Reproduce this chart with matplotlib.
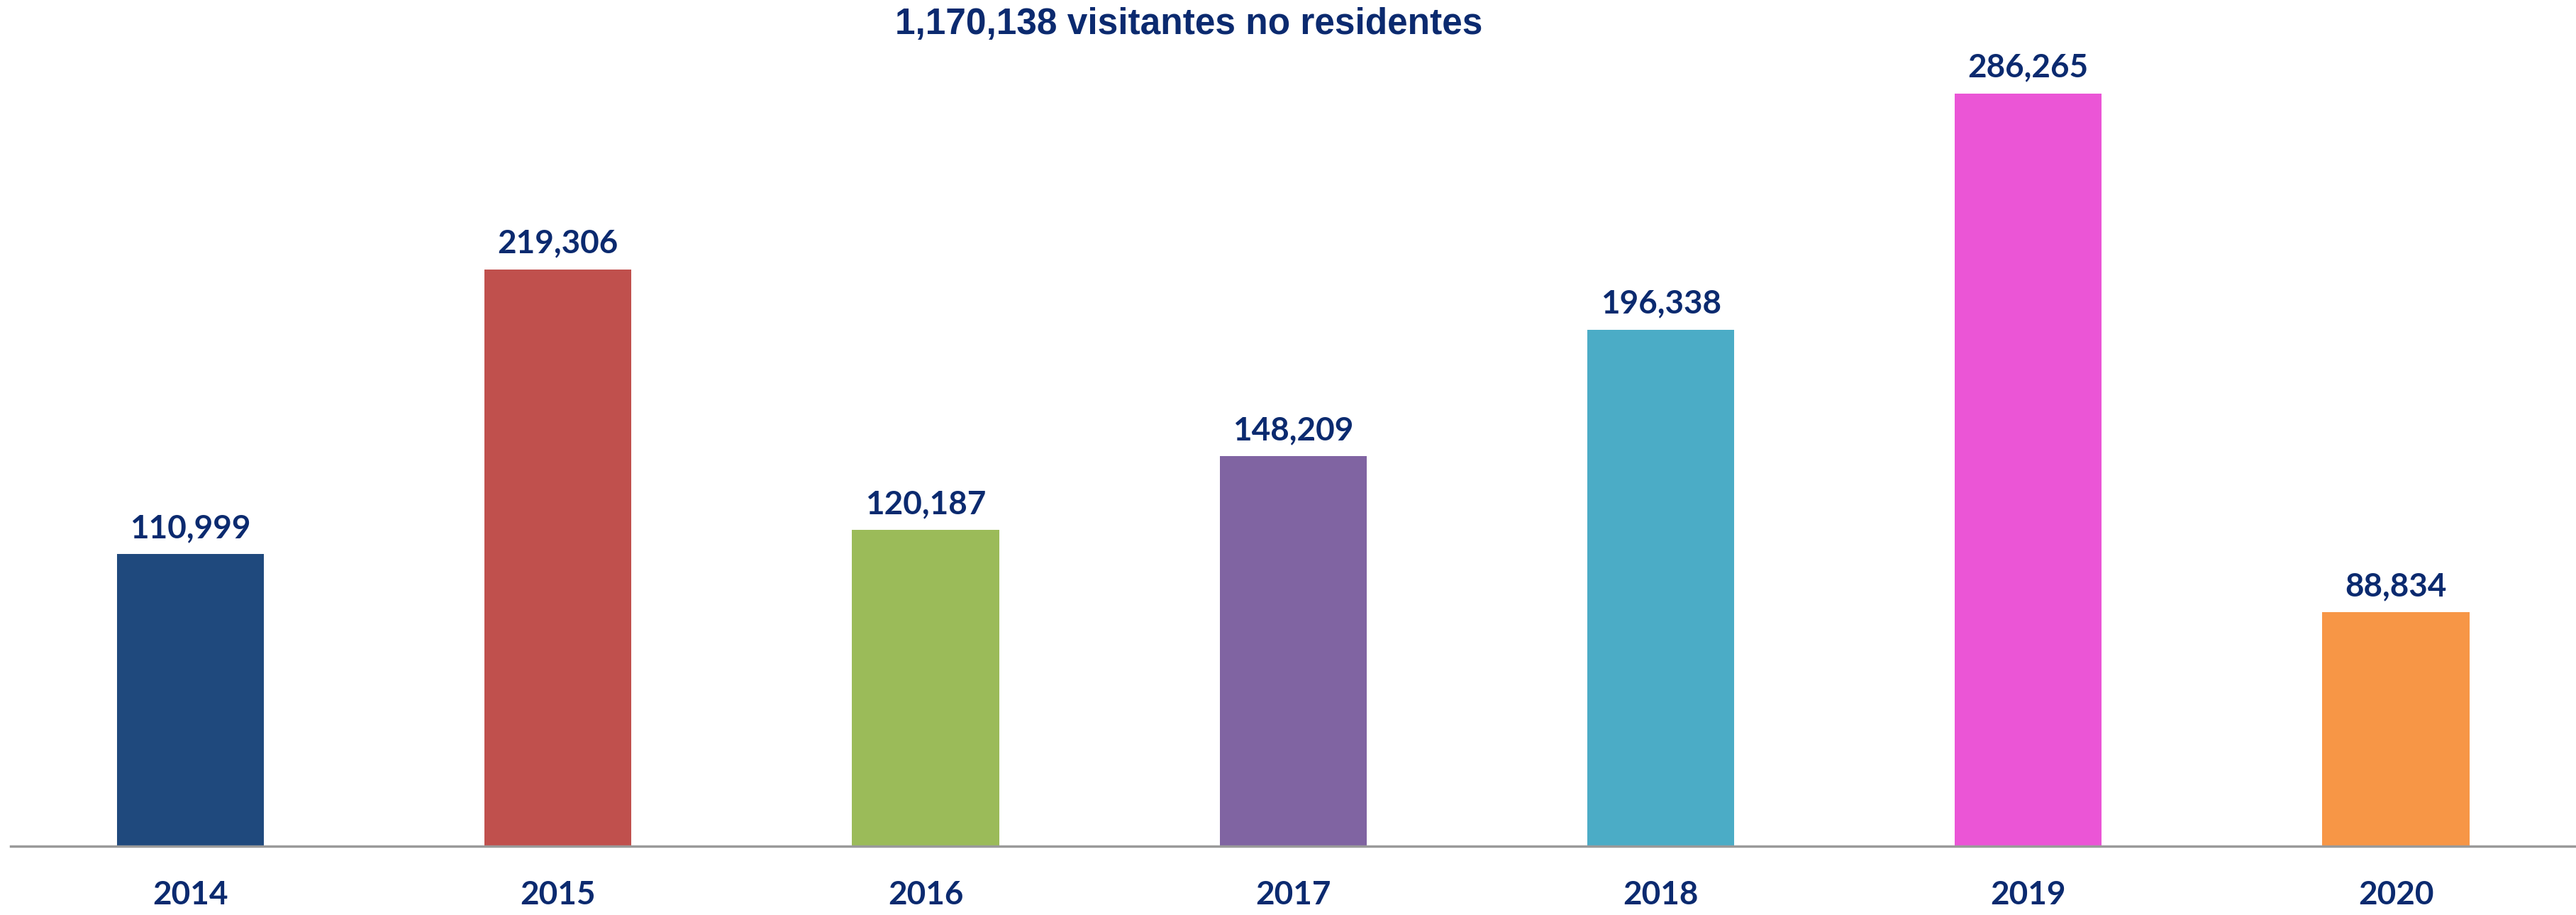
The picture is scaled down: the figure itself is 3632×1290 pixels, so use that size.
import numpy as np
import matplotlib
matplotlib.use('Agg')
from matplotlib import pyplot as plt

# Data
years = ['2014', '2015', '2016', '2017', '2018', '2019', '2020']
visitors = [110999, 219306, 120187, 148209, 196338, 286265, 88834]
title = '1,170,138 visitantes no residentes'

colors = ['#1F497D', '#C0504D', '#9BBB59', '#8064A2',
          '#4BACC6', '#EB55D6', '#F79646']
textcolor = '#0B2A6F'

fig = plt.figure(figsize=(36.32, 12.90), dpi=100)
ax = fig.add_axes([0.004, 0.0754, 0.996, 0.862])

x = np.arange(len(years))
bars = ax.bar(x, visitors, width=0.40, color=colors, zorder=2)

ax.set_xlim(-0.49, len(years) - 1 + 0.49)
ax.set_ylim(0, 300000)

label_font = {'family': ['Lato', 'DejaVu Sans'], 'weight': 'bold',
              'size': 33, 'color': textcolor}
for b, v in zip(bars, visitors):
    ax.annotate(f'{v:,}', (b.get_x() + b.get_width() / 2, v),
                xytext=(0, 11), textcoords='offset points',
                ha='center', va='bottom', **label_font)

ax.set_xticks(x)
ax.set_xticklabels(years, fontdict=label_font)
ax.tick_params(axis='x', length=0, pad=35)
ax.set_yticks([])

for s in ('top', 'right', 'left'):
    ax.spines[s].set_visible(False)
ax.spines['bottom'].set_color('#9A9A9A')
ax.spines['bottom'].set_linewidth(2.5)

fig.text(0.4616, 1 - 48 / 1290, title, ha='center', va='baseline',
         family=['Liberation Sans', 'DejaVu Sans'],
         weight='bold', size=37, color=textcolor)

fig.savefig('out.png', dpi=100, facecolor='white')
